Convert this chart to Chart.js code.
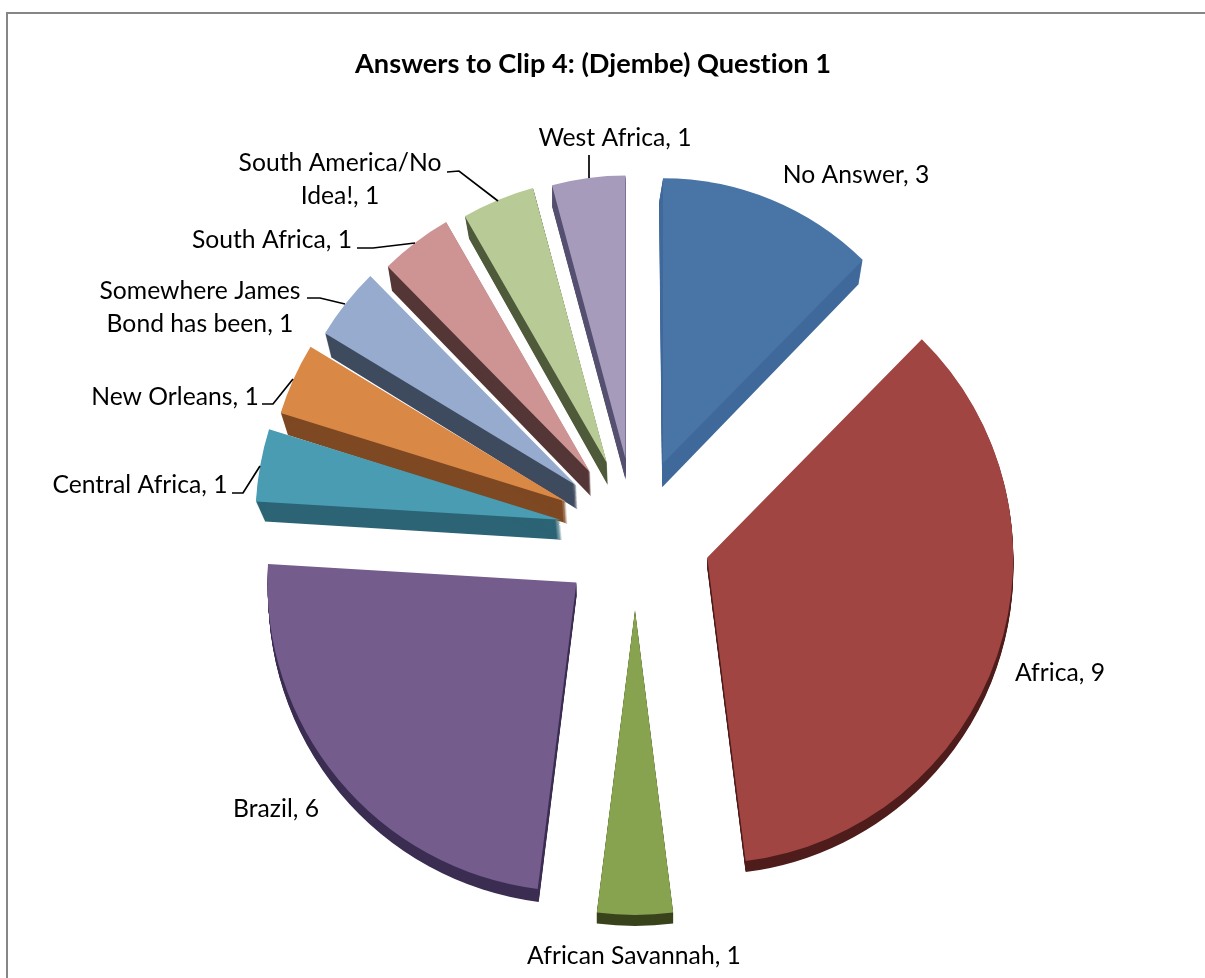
<!DOCTYPE html>
<html>
<head>
<meta charset="utf-8">
<title>Answers to Clip 4</title>
<script src="https://cdn.jsdelivr.net/npm/chart.js@4"></script>
<style>
  html, body { margin: 0; padding: 0; background: #fff; overflow: hidden; width: 1205px; height: 978px; }
  #frame { position: absolute; left: 6px; top: 12px; width: 1400px; height: 1200px; border: 2px solid #868686; box-sizing: border-box; }
  #chart { position: absolute; left: 0; top: 0; }
</style>
</head>
<body>
<div id="frame"></div>
<canvas id="chart" width="1205" height="978"></canvas>
<script>
const categories = ["No Answer", "Africa", "African Savannah", "Brazil", "Central Africa", "New Orleans",
  "Somewhere James Bond has been", "South Africa", "South America/No Idea!", "West Africa"];
const answerCounts = [3, 9, 1, 6, 1, 1, 1, 1, 1, 1];
const chartTitle = "Answers to Clip 4: (Djembe) Question 1";

const faceColors = ["#4874A6", "#A14543", "#87A34F", "#745C8D", "#4A9CB3", "#DA8845", "#97ABCF", "#CD9493", "#B8CB97", "#A79BBC"];
const sideColors = ["#40699B", "#4E1C1A", "#38431C", "#3B2C52", "#2C6475", "#7D4822", "#3E4A5E", "#553637", "#4E5A3A", "#555070"];

// the original is a tilted 3D pie, so each slice gets its own radius and side shift
const faceRadius = [285, 306, 305, 309, 305, 299, 294, 289, 285, 283];
const sideShift = [[-4, 24], [0, 11], [0, 11], [1, 13], [9, 20], [7, 22], [6, 24], [4, 24], [4, 22], [0, 21]];
const sliceGap = 76;
const farSideSquash = 0.955;

const labelFont = "24.7px Lato";
const titleFont = "bold 27.2px Lato";
const labelLines = [
  ["No Answer, 3", 856, 175],
  ["Africa, 9", 1060, 673],
  ["African Savannah, 1", 634, 956],
  ["Brazil, 6", 276, 809],
  ["Central Africa, 1", 140, 485],
  ["New Orleans, 1", 175, 397],
  ["Somewhere James", 200, 291],
  ["Bond has been, 1", 200, 324],
  ["South Africa, 1", 272, 240],
  ["South America/No", 340, 163],
  ["Idea!, 1", 340, 196],
  ["West Africa, 1", 615, 138]
];
const leaderLines = [
  [[232, 493], [243, 493], [260, 466]],
  [[262, 404], [273, 404], [293, 379]],
  [[307, 298], [320, 298], [345, 304]],
  [[357, 248], [373, 248], [415, 243]],
  [[447, 172], [459, 171], [498, 201]],
  [[589, 155], [589, 178]]
];

// the far half of the pie is foreshortened, which spreads the angles a little
function tiltAngle(angle) {
  if (Math.sin(angle) >= 0) return angle;
  const tilted = Math.atan2(Math.sin(angle) * farSideSquash, Math.cos(angle));
  return angle > Math.PI ? tilted + 2 * Math.PI : tilted;
}

const pieFaces = {
  id: "pieFaces",
  afterDatasetsUpdate(chart) {
    // pull the slices apart here, options.offset changes the wedge shape
    chart.getDatasetMeta(0).data.forEach((arc, i) => {
      const mid = (arc.startAngle + arc.endAngle) / 2;
      arc.x += Math.cos(mid) * sliceGap;
      arc.y += Math.sin(mid) * sliceGap;
      arc.startAngle = tiltAngle(arc.startAngle);
      arc.endAngle = tiltAngle(arc.endAngle);
      arc.circumference = arc.endAngle - arc.startAngle;
      arc.outerRadius = faceRadius[i];
    });
  },
  beforeDatasetsDraw(chart) {
    const { ctx } = chart;
    chart.getDatasetMeta(0).data.forEach((arc, i) => {
      const [dx, dy] = sideShift[i];
      const steps = Math.max(Math.abs(dx), Math.abs(dy));
      ctx.save();
      ctx.fillStyle = sideColors[i];
      for (let s = 1; s <= steps; s++) {
        const sx = dx * s / steps;
        const sy = dy * s / steps;
        ctx.beginPath();
        // the rim moves sideways more than the tip does
        ctx.moveTo(arc.x + sx * 0.2, arc.y + sy);
        ctx.arc(arc.x + sx, arc.y + sy, arc.outerRadius, arc.startAngle, arc.endAngle);
        ctx.closePath();
        ctx.fill();
      }
      ctx.restore();
    });
  },
  afterDraw(chart) {
    const { ctx } = chart;
    ctx.save();
    ctx.strokeStyle = "#000";
    ctx.lineWidth = 1.7;
    leaderLines.forEach((pts) => {
      ctx.beginPath();
      pts.forEach(([x, y], i) => (i ? ctx.lineTo(x, y) : ctx.moveTo(x, y)));
      ctx.stroke();
    });
    ctx.fillStyle = "#000";
    ctx.textAlign = "center";
    ctx.textBaseline = "middle";
    ctx.letterSpacing = "0.01px"; // keeps Lato from joining "ti" and "fi"
    ctx.font = titleFont;
    ctx.fillText(chartTitle, 593, 64);
    ctx.font = labelFont;
    labelLines.forEach(([text, x, y]) => ctx.fillText(text, x, y));
    ctx.restore();
  }
};

new Chart(document.getElementById("chart"), {
  type: "pie",
  data: {
    labels: categories,
    datasets: [{
      data: answerCounts,
      backgroundColor: faceColors,
      borderWidth: 0,
      clip: false
    }]
  },
  options: {
    responsive: false,
    animation: false,
    radius: 308,
    layout: { padding: { left: 65, right: 0, top: 90, bottom: 0 } },
    plugins: {
      legend: { display: false },
      tooltip: { enabled: false }
    }
  },
  plugins: [pieFaces]
});
</script>
</body>
</html>
